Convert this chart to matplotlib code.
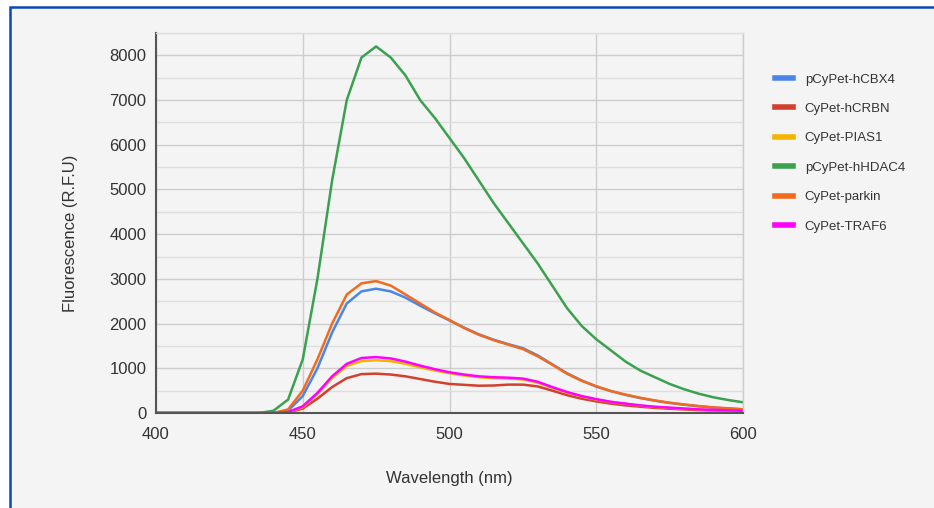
import matplotlib
matplotlib.use('Agg')
import matplotlib.pyplot as plt
from matplotlib.patches import Rectangle

plt.rcParams['font.family'] = ['Liberation Sans', 'DejaVu Sans']

wavelength = list(range(400, 601, 5))

zeros = [0] * 8  # 400..435

hCBX4 = zeros + [0, 50, 380, 1000, 1800, 2450, 2720, 2780, 2720, 2580, 2400, 2230, 2070,
                 1910, 1760, 1640, 1540, 1450, 1290, 1090, 890, 730, 590, 490, 405, 335,
                 275, 225, 185, 150, 120, 100, 80]
hCRBN = zeros + [0, 10, 100, 320, 580, 780, 870, 880, 860, 820, 760, 700, 650,
                 630, 610, 615, 635, 635, 595, 500, 400, 320, 260, 210, 170, 140,
                 115, 95, 80, 65, 55, 45, 40]
PIAS1 = zeros + [0, 15, 130, 420, 780, 1050, 1160, 1180, 1160, 1100, 1020, 950, 890,
                 840, 800, 780, 770, 750, 680, 565, 455, 370, 300, 245, 205, 165,
                 135, 115, 95, 80, 65, 55, 45]
hHDAC4 = zeros + [50, 300, 1200, 3000, 5200, 7000, 7950, 8200, 7950, 7550, 7000, 6600, 6150,
                  5700, 5200, 4700, 4250, 3800, 3350, 2850, 2350, 1950, 1650, 1400, 1150, 950,
                  800, 650, 530, 430, 350, 290, 240]
parkin = zeros + [0, 80, 500, 1200, 2000, 2650, 2900, 2950, 2850, 2650, 2450, 2250, 2080,
                  1900, 1750, 1630, 1530, 1430, 1270, 1080, 880, 720, 600, 490, 410, 340,
                  280, 230, 190, 155, 125, 105, 85]
TRAF6 = zeros + [0, 20, 150, 450, 820, 1100, 1230, 1250, 1220, 1150, 1060, 980, 910,
                 860, 820, 800, 790, 770, 700, 580, 470, 380, 310, 250, 210, 170,
                 140, 120, 100, 80, 70, 60, 50]

series = [
    ('pCyPet-hCBX4', hCBX4, '#4a86e8'),
    ('CyPet-hCRBN', hCRBN, '#d2402f'),
    ('CyPet-PIAS1', PIAS1, '#f4b400'),
    ('pCyPet-hHDAC4', hHDAC4, '#3aa14f'),
    ('CyPet-parkin', parkin, '#f26b1d'),
    ('CyPet-TRAF6', TRAF6, '#ff00ff'),
]

fig = plt.figure(figsize=(9.34, 5.08), dpi=100, facecolor='white')
# blue frame around the panel
frame = Rectangle((9.5 / 934, -0.05), 1.1, 1 - 7.3 / 508 + 0.05,
                  transform=fig.transFigure, facecolor='#f4f4f4',
                  edgecolor='#0d47b5', linewidth=1.8, zorder=-10)
fig.patches.append(frame)

ax = fig.add_axes([156 / 934, 1 - 413 / 508, 587 / 934, 380 / 508])
ax.set_zorder(5)
ax.set_facecolor('#f4f4f4')

for label, vals, col in series:
    ax.plot(wavelength, vals, color=col, linewidth=1.8, label=label)

ax.set_xlim(400, 600)
ax.set_ylim(0, 8500)
ax.set_xticks([400, 450, 500, 550, 600])
ax.set_yticks(range(0, 8001, 1000))
ax.set_yticks(range(500, 8501, 1000), minor=True)
ax.grid(True, which='major', color='#cdcdcd', linewidth=1.0)
ax.grid(True, which='minor', axis='y', color='#dedede', linewidth=1.0)
ax.set_axisbelow(True)

ax.spines['top'].set_color('#dedede')
ax.spines['top'].set_linewidth(1.0)
ax.spines['right'].set_color('#cdcdcd')
ax.spines['right'].set_linewidth(1.0)
for s in ['left', 'bottom']:
    ax.spines[s].set_color('#555555')
    ax.spines[s].set_linewidth(1.5)

ax.tick_params(axis='both', which='both', length=0, labelsize=12, colors='#333333')
ax.tick_params(axis='x', pad=10)
ax.tick_params(axis='y', pad=7)

ax.set_xlabel('Wavelength (nm)', fontsize=12, color='#333333')
ax.set_ylabel('Fluorescence (R.F.U)', fontsize=12, color='#333333')
ax.xaxis.set_label_coords(0.499, -0.153)
ax.yaxis.set_label_coords(-0.133, 0.474)

leg = ax.legend(loc='upper left', bbox_to_anchor=(775 / 934, 1 - 73.4 / 508),
                bbox_transform=fig.transFigure, frameon=False, fontsize=9.5,
                handlelength=1.36, handletextpad=0.9, labelspacing=1.3,
                borderpad=0, borderaxespad=0)
for h in leg.get_lines():
    h.set_linewidth(4)
for t in leg.get_texts():
    t.set_color('#333333')

fig.savefig('out.png', dpi=100, facecolor=fig.get_facecolor())
